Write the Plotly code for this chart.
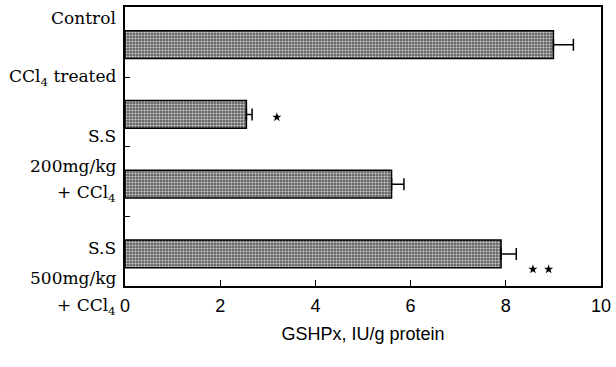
import plotly.graph_objects as go

groups = ["Control", "CCl4 treated", "S.S 200mg/kg + CCl4", "S.S 500mg/kg + CCl4"]
positions = [0, 1, 2, 3]
values = [9.0, 2.55, 5.6, 7.9]
errors = [0.42, 0.12, 0.26, 0.32]
star_x = [3.19, 8.57, 8.9]
star_y = [1.04, 3.22, 3.22]
x_ticks = [0, 2, 4, 6, 8, 10]
y_ticks = [0.47, 1.46, 2.46]

# label lines (text, paper-y)
label_lines = [
    ("Control", 0.961),
    ("CCl<sub>4</sub> treated", 0.747),
    ("S.S", 0.537),
    ("200mg/kg", 0.431),
    ("+ CCl<sub>4</sub>", 0.331),
    ("S.S", 0.135),
    ("500mg/kg", 0.028),
    ("+ CCl<sub>4</sub>", -0.075),
]

fig = go.Figure()
fig.add_trace(go.Bar(
    x=values, y=positions, orientation="h", width=0.4,
    marker=dict(color="#7a7a7a", line=dict(color="black", width=1.5),
                pattern=dict(shape=".", fgcolor="#d0d0d0", bgcolor="#626262",
                             size=3, solidity=0.4, fillmode="replace")),
    error_x=dict(type="data", array=errors, arrayminus=[0] * len(errors), symmetric=False,
                 color="black", thickness=1.5, width=6),
    hoverinfo="skip", showlegend=False,
))
fig.add_trace(go.Scatter(
    x=star_x, y=star_y, mode="markers",
    marker=dict(symbol="star", size=7, color="black"),
    showlegend=False, hoverinfo="skip",
))

for txt, py in label_lines:
    fig.add_annotation(text=txt, xref="paper", yref="paper", x=0, y=py,
                       xanchor="right", yanchor="middle", xshift=-7, showarrow=False,
                       font=dict(family="DejaVu Serif", size=17, color="black"))

sans = "Liberation Sans Narrow, Arial Narrow, Liberation Sans"
fig.update_layout(
    width=616, height=367,
    margin=dict(l=125, r=14, t=5, b=81),
    paper_bgcolor="white", plot_bgcolor="white",
    xaxis=dict(range=[0, 10], tickvals=x_ticks, ticks="inside", ticklen=6, tickwidth=1.2,
               tickcolor="black", showgrid=False, zeroline=False, ticklabelstandoff=3,
               showline=True, linecolor="black", linewidth=1.5, mirror=True,
               tickfont=dict(family=sans, size=18, color="black"),
               title=dict(text="GSHPx, IU/g protein", standoff=12,
                          font=dict(family=sans, size=18, color="black"))),
    yaxis=dict(range=[3.46, -0.54], tickvals=y_ticks, showticklabels=False, ticks="inside",
               ticklen=5, tickwidth=1.2, tickcolor="black", showgrid=False, zeroline=False,
               showline=True, linecolor="black", linewidth=1.5, mirror=True),
)

fig.write_html("out.html")
